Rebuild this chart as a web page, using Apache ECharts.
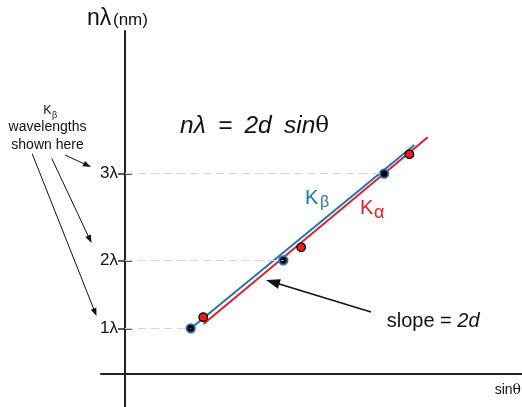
<!DOCTYPE html>
<html>
<head>
<meta charset="utf-8">
<script src="https://cdn.jsdelivr.net/npm/echarts@6/dist/echarts.min.js"></script>
<style>
html,body{margin:0;padding:0;background:#fff;}
#c{width:522px;height:407px;}
</style>
</head>
<body>
<div id="c"></div>
<script>
// ---- data ----
const kbX = [0.273, 0.658, 1.077];      // K-beta points, sin(theta)
const kbY = [0.68, 1.70, 3.00];         // K-beta points, n*lambda
const kaX = [0.325, 0.732, 1.182];      // K-alpha points
const kaY = [0.846, 1.895, 3.29];
const kbFitX = [0.268, 1.2026];         // K-beta fitted line ends
const kbFitY = [0.663, 3.43];
const kaFitX = [0.326, 1.258];          // K-alpha fitted line ends
const kaFitY = [0.745, 3.545];
const tickValues = [0.68, 1.70, 3.00];
const tickLabels = ['1λ', '2λ', '3λ'];

const FONT = "'Liberation Sans', Arial, sans-serif";
const SERIF = "'DejaVu Serif', 'Liberation Serif', serif";
const BLUE = '#1b75bc';
const RED = '#ed1c24';
const INK = '#111';

function labelFor(v) {
  for (let i = 0; i < tickValues.length; i++) {
    if (Math.abs(tickValues[i] - v) < 1e-6) return tickLabels[i];
  }
  return '';
}

function arrow(x1, y1, x2, y2, len, hw, lw) {
  const dx = x2 - x1, dy = y2 - y1, L = Math.hypot(dx, dy);
  const ux = dx / L, uy = dy / L;
  const bx = x2 - ux * len, by = y2 - uy * len;
  const px = -uy, py = ux;
  return [
    {type: 'line', z: 20, shape: {x1: x1, y1: y1, x2: bx + ux, y2: by + uy},
     style: {stroke: INK, lineWidth: lw}},
    {type: 'polygon', z: 20, shape: {points: [[x2, y2], [bx + px * hw, by + py * hw], [bx - px * hw, by - py * hw]]},
     style: {fill: INK}}
  ];
}

function txt(x, y, text, font, fill, align) {
  return {type: 'text', x: x, y: y, z: 20,
    style: {text: text, font: font, fill: fill || INK, align: align || 'left', verticalAlign: 'middle'}};
}

const chart = echarts.init(document.getElementById('c'), null, {renderer: 'canvas'});

const GRID_LEFT = 101, AXIS_X = 125;

const yBase = {
  type: 'value', min: -0.5, max: 5.14, position: 'left',
  offset: GRID_LEFT - AXIS_X,
  splitLine: {show: false}
};

const option = {
  animation: false,
  grid: {left: GRID_LEFT, right: 0, top: 31, bottom: 0, containLabel: false, outerBoundsMode: 'none'},
  xAxis: {
    type: 'value', min: -0.1, max: 1.65,
    axisLine: {onZero: true, lineStyle: {color: '#222', width: 2}},
    axisTick: {show: false}, axisLabel: {show: false}, splitLine: {show: false}
  },
  yAxis: [
    Object.assign({}, yBase, {
      axisLine: {onZero: false, lineStyle: {color: '#222', width: 2}},
      axisTick: {show: true, customValues: tickValues, length: 7, lineStyle: {color: '#222', width: 1.5}},
      axisLabel: {show: true, customValues: tickValues, formatter: labelFor, margin: 7,
                  fontFamily: FONT, fontSize: 17, color: INK}
    }),
    Object.assign({}, yBase, {
      axisLine: {show: false, onZero: false},
      axisTick: {show: true, inside: true, customValues: tickValues, length: 7, lineStyle: {color: '#222', width: 1.5}},
      axisLabel: {show: false}
    })
  ],
  series: [
    {
      type: 'line', data: [], z: 1, silent: true,
      markLine: {
        silent: true, symbol: 'none', animation: false,
        label: {show: false},
        lineStyle: {type: [8, 5], color: '#d4d4d4', width: 1},
        data: kbX.map((x, i) => [{coord: [0, kbY[i]]}, {coord: [x, kbY[i]]}])
      }
    },
    {
      type: 'line', z: 2, showSymbol: false, silent: true,
      data: kbFitX.map((x, i) => [x, kbFitY[i]]),
      lineStyle: {color: BLUE, width: 2}
    },
    {
      type: 'line', z: 2, showSymbol: false, silent: true,
      data: kaFitX.map((x, i) => [x, kaFitY[i]]),
      lineStyle: {color: RED, width: 2}
    },
    {
      type: 'scatter', z: 3, symbolSize: 8.5,
      data: kbX.map((x, i) => [x, kbY[i]]),
      itemStyle: {color: '#000', borderColor: BLUE, borderWidth: 1.8, opacity: 1}
    },
    {
      type: 'scatter', z: 3, symbolSize: 8.5,
      data: kaX.map((x, i) => [x, kaY[i]]),
      itemStyle: {color: RED, borderColor: '#000', borderWidth: 1.3, opacity: 1}
    }
  ],
  graphic: [
    // y-axis name
    txt(87, 19, 'nλ', '23px ' + FONT),
    txt(113, 20.8, '(nm)', '17px ' + FONT),
    // equation
    {type: 'text', x: 180, y: 126.5, z: 20, style: {
      text: '{i|nλ\u2002=\u20022d\u2002sin}{t|θ}', verticalAlign: 'middle', align: 'left',
      rich: {
        i: {font: 'italic 24.5px ' + FONT, fill: INK},
        t: {font: '23px ' + SERIF, fill: INK}
      }
    }},
    // left annotation
    txt(43.3, 110.7, 'K', '12.5px ' + FONT),
    txt(52, 116, 'β', '9px ' + FONT),
    txt(47.5, 126.8, 'wavelengths', '14px ' + FONT, INK, 'center'),
    txt(47.5, 145.1, 'shown here', '14px ' + FONT, INK, 'center'),
    // series labels
    txt(305, 198, 'K', '20px ' + FONT, BLUE),
    txt(320, 202.8, 'β', '16px ' + FONT, BLUE),
    txt(360, 208, 'K', '20px ' + FONT, RED),
    txt(374, 213, 'α', '18px ' + FONT, RED),
    // slope label
    {type: 'text', x: 386.7, y: 321.4, z: 20, style: {
      text: '{n|slope = }{i|2d}', verticalAlign: 'middle', align: 'left',
      rich: {
        n: {font: '20px ' + FONT, fill: INK},
        i: {font: 'italic 20px ' + FONT, fill: INK}
      }
    }},
    // x-axis name
    {type: 'text', x: 521, y: 390, z: 20, style: {
      text: '{s|sin}{t|θ}', verticalAlign: 'middle', align: 'right',
      rich: {
        s: {font: '14px ' + FONT, fill: INK},
        t: {font: '14px ' + SERIF, fill: INK}
      }
    }}
  ].concat(
    arrow(65, 155, 91, 167, 8, 3, 1),
    arrow(51.7, 158.3, 91.5, 243, 8, 3, 1),
    arrow(32.3, 154, 96.5, 316, 8, 3, 1),
    arrow(371, 312, 266, 280, 14, 5, 1.5)
  )
};

chart.setOption(option);
</script>
</body>
</html>
